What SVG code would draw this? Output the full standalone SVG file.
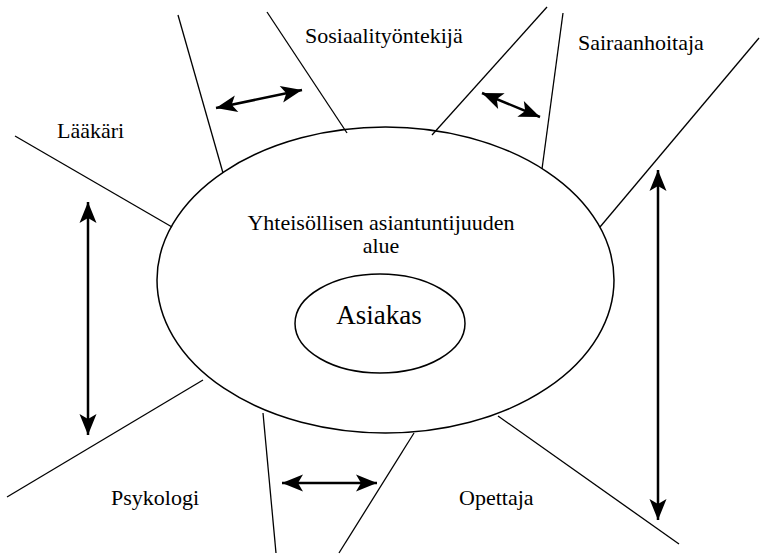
<svg xmlns="http://www.w3.org/2000/svg" width="761" height="554" viewBox="0 0 761 554">
<style>
  .bg { fill: #ffffff; }
  .ell { fill: none; stroke: #000; stroke-width: 1.5; }
  .ln { fill: none; stroke: #000; stroke-width: 1.3; }
  .arr { fill: none; stroke: #000; stroke-width: 2.5; marker-start: url(#ah); marker-end: url(#ah); }
  .lbl { font-size: 22px; fill: #000; }
  .big { font-size: 27px; fill: #000; }
</style>
<defs>
  <marker id="ah" viewBox="-22 -10 23 20" refX="0" refY="0" markerWidth="23" markerHeight="20" markerUnits="userSpaceOnUse" orient="auto-start-reverse">
    <path d="M0,0 L-21,-8.5 L-16,0 L-21,8.5 Z" fill="#000"/>
  </marker>
</defs>
<rect class="bg" x="0" y="0" width="761" height="554"/>
<g id="connectors">
  <line class="ln" x1="15" y1="136" x2="172" y2="227"/>
  <line class="ln" x1="7" y1="497" x2="203" y2="380"/>
  <line class="ln" x1="178" y1="15" x2="223" y2="173"/>
  <line class="ln" x1="267" y1="12" x2="347" y2="133"/>
  <line class="ln" x1="547" y1="7" x2="432" y2="135"/>
  <line class="ln" x1="563" y1="13" x2="542" y2="169"/>
  <line class="ln" x1="759" y1="38" x2="600" y2="227"/>
  <line class="ln" x1="498" y1="416" x2="679" y2="544"/>
  <line class="ln" x1="263" y1="413" x2="276" y2="553"/>
  <line class="ln" x1="414" y1="433" x2="339" y2="553"/>
  <line class="arr" x1="216" y1="108" x2="302" y2="90"/>
  <line class="arr" x1="482" y1="93" x2="540" y2="117"/>
  <line class="arr" x1="88" y1="202" x2="88" y2="435"/>
  <line class="arr" x1="658" y1="170" x2="658" y2="520"/>
  <line class="arr" x1="282" y1="483" x2="377" y2="483"/>
</g>
<g id="outer" font-family="'Liberation Serif', 'DejaVu Serif', serif">
  <ellipse class="ell" cx="385.5" cy="280" rx="228.5" ry="153"/>
  <text class="lbl" x="381" y="230" text-anchor="middle">Yhteisöllisen asiantuntijuuden</text>
  <text class="lbl" x="381" y="253" text-anchor="middle">alue</text>
</g>
<g id="inner" font-family="'Liberation Serif', 'DejaVu Serif', serif">
  <ellipse class="ell" cx="380" cy="323.5" rx="85" ry="49.5"/>
  <text class="big" x="379" y="324" text-anchor="middle">Asiakas</text>
</g>
<g id="laakari" font-family="'Liberation Serif', 'DejaVu Serif', serif"><text class="lbl" x="57" y="138">Lääkäri</text></g>
<g id="sosiaalityontekija" font-family="'Liberation Serif', 'DejaVu Serif', serif"><text class="lbl" x="305" y="43">Sosiaalityöntekijä</text></g>
<g id="sairaanhoitaja" font-family="'Liberation Serif', 'DejaVu Serif', serif"><text class="lbl" x="578" y="50">Sairaanhoitaja</text></g>
<g id="psykologi" font-family="'Liberation Serif', 'DejaVu Serif', serif"><text class="lbl" x="111" y="505">Psykologi</text></g>
<g id="opettaja" font-family="'Liberation Serif', 'DejaVu Serif', serif"><text class="lbl" x="459" y="505">Opettaja</text></g>
</svg>
